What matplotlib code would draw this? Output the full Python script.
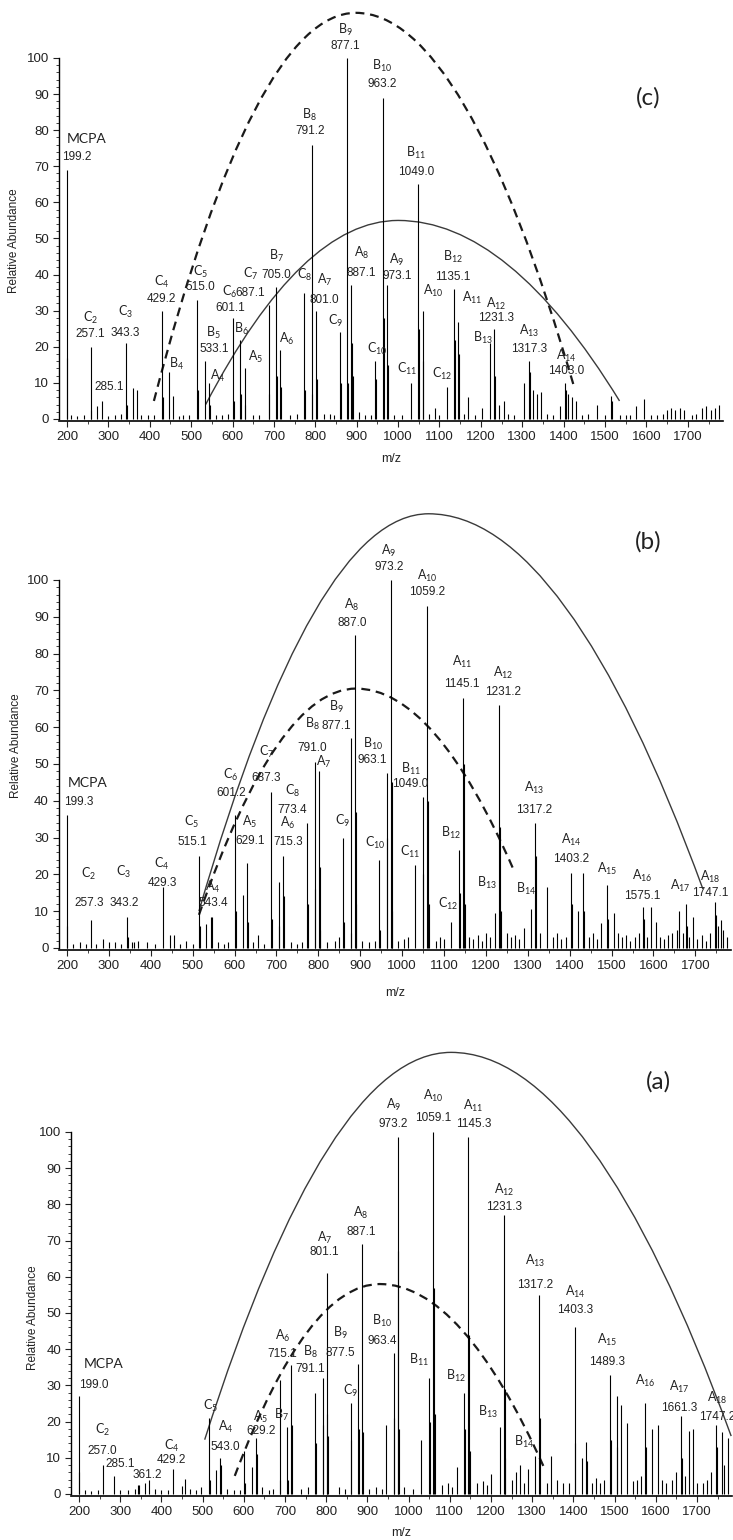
import matplotlib.pyplot as plt
from matplotlib.path import Path
from matplotlib.patches import PathPatch
from matplotlib.ticker import MultipleLocator, FixedLocator
import numpy as np

plt.rcParams['font.family'] = ['Liberation Sans', 'DejaVu Sans']

# ---------------- panel (c) ----------------
c_mz = [199.2, 201, 257.1, 259, 273, 285.1, 343.3, 345, 359, 369, 429.2, 431, 447, 455,
        515.0, 517, 533.1, 543, 545, 601.1, 603, 619, 621, 629, 631, 687.1, 689, 705.0, 707,
        715, 717, 773, 775, 791.2, 793, 801.0, 803, 859, 861, 877.1, 879, 887.1, 889, 891,
        945, 947, 963.2, 965, 973.1, 975, 1031, 1049.0, 1051, 1059, 1061, 1090, 1117,
        1135.1, 1137, 1145, 1147, 1170, 1203, 1221, 1231.3, 1233, 1245, 1255, 1305,
        1317.3, 1319, 1325, 1335, 1345, 1390, 1403.0, 1405, 1411, 1420, 1430, 1480,
        1515, 1517, 1575, 1595, 1650, 1660, 1668, 1680, 1690, 1735, 1745, 1755, 1765, 1775,
        # small baseline peaks
        210, 225, 240, 300, 315, 330, 380, 395, 410, 470, 480, 495, 560, 575, 590, 650,
        665, 740, 755, 820, 835, 845, 905, 920, 935, 990, 1010, 1075, 1100, 1160, 1185,
        1265, 1280, 1360, 1375, 1445, 1460, 1500, 1535, 1550, 1560, 1610, 1625, 1640,
        1710, 1720]
c_int = [69, 17, 20, 2.5, 3.5, 5, 21, 4, 8.5, 8, 30, 6, 13, 6.5,
         33, 8, 16, 10, 4, 28, 5, 22, 7, 14, 4, 31.5, 7, 36.5, 12,
         19, 9, 35, 8, 76, 7, 30, 11, 24, 10, 100, 10, 37, 21, 12,
         16, 11, 89, 28, 37, 15, 10, 65, 25, 30, 16, 3, 9,
         36, 22, 27, 18, 6, 3, 21, 25, 12, 4, 5, 10,
         16, 13, 8, 7, 7.5, 3.5, 10, 8, 7, 6, 5, 4,
         6.5, 5, 3.5, 5.5, 2.5, 3, 2.5, 3, 2.5, 3, 3.5, 2.5, 3, 4,
         1, 0.8, 1.2, 0.8, 1, 1.5, 1, 1.2, 1, 0.8, 1.2, 1, 1, 1, 1.5, 1,
         1.2, 1, 1.5, 1.3, 1.5, 1, 2, 1, 1.2, 1.2, 1, 1.5, 1, 1.5, 1.2,
         1.5, 1.2, 1.5, 1, 1.2, 1.5, 1.2, 1, 1.2, 1, 1.2, 1, 1.5,
         1, 1.3]
# (ion, mass text, peak m/z, dx px, dy px, line gap px)
c_labels = [
    ("MCPA", "199.2", 199.2, 10, 10, 17), ("C_2", "257.1", 257.1, 0, 10, 15),
    ("", "285.1", 285.1, 7, 11, 15), ("C_3", "343.3", 343.3, -1, 7, 20),
    ("C_4", "429.2", 429.2, 0, 9, 16), ("B_4", "", 447, 7, 4, 15),
    ("C_5", "515.0", 515.0, 3, 10, 14), ("B_5", "533.1", 533.1, 9, 9, 15),
    ("A_4", "", 543, 9, 3, 15), ("C_6", "601.1", 601.1, -3, 7, 15),
    ("B_6", "", 619, 1, 7, 15), ("A_5", "", 629, 11, 8, 15),
    ("C_7", "687.1", 687.1, -18, 9, 18), ("B_7", "705.0", 705.0, 0, 9, 18),
    ("A_6", "", 715, 7, 7, 15), ("C_8", "", 773, 0, 14, 15),
    ("B_8", "791.2", 791.2, -2, 11, 15), ("A_7", "801.0", 801.0, 9, 8, 19),
    ("C_9", "", 859, -4, 7, 15), ("B_9", "877.1", 877.1, -2, 9, 15),
    ("A_8", "887.1", 887.1, 10, 9, 20), ("C_{10}", "", 945, 2, 8, 15),
    ("B_{10}", "963.2", 963.2, -1, 11, 17), ("A_9", "973.1", 973.1, 10, 6, 16),
    ("C_{11}", "", 1031, -4, 10, 15), ("B_{11}", "1049.0", 1049.0, -2, 9, 18),
    ("A_{10}", "", 1059, 11, 16, 15), ("C_{12}", "", 1117, -4, 9, 15),
    ("B_{12}", "1135.1", 1135.1, -1, 9, 19), ("A_{11}", "", 1145, 14, 20, 15),
    ("A_{12}", "1231.3", 1231.3, 2, 8, 13), ("B_{13}", "", 1221, -7, 1, 15),
    ("A_{13}", "1317.3", 1317.3, 0, 9, 17), ("A_{14}", "1403.0", 1403.0, 1, 9, 14),
]
c_dashed = [(410, 5), (898, 112.5), (1425, 9)]
c_solid = [(535, 4), (1000, 55), (1535, 5)]

# ---------------- panel (b) ----------------
b_mz = [199.3, 201, 257.3, 285, 300, 343.2, 345, 360, 370, 429.3, 447, 455, 515.1, 517,
        533, 543.4, 547, 601.2, 603, 619, 629.1, 631, 655, 687.3, 689, 705, 707, 715.3,
        717, 773.4, 775, 791.0, 793, 801, 803, 805, 859, 861, 877.1, 879, 887.0, 889, 891,
        945, 947, 963.1, 965, 973.2, 975, 977, 1031, 1049.0, 1051, 1059.2, 1061, 1063,
        1117, 1135, 1137, 1145.1, 1147, 1149, 1200, 1221, 1231.2, 1233, 1235, 1290, 1307,
        1317.2, 1319, 1345, 1403.2, 1405, 1420, 1431, 1433, 1475, 1489, 1491, 1505,
        1575.1, 1577, 1595, 1605, 1661, 1677, 1679, 1695, 1747.1, 1749, 1760,
        # small baseline peaks
        215, 230, 245, 270, 315, 330, 355, 390, 410, 470, 485, 500, 560, 575, 585, 645,
        670, 735, 750, 760, 820, 840, 850, 905, 920, 935, 990, 1005, 1015, 1080, 1090,
        1100, 1160, 1170, 1180, 1190, 1210, 1250, 1260, 1270, 1280, 1330, 1360, 1370,
        1380, 1390, 1445, 1455, 1465, 1515, 1525, 1535, 1545, 1555, 1565, 1585, 1615,
        1625, 1635, 1645, 1655, 1670, 1685, 1705, 1715, 1725, 1735, 1755, 1765, 1775]
b_int = [36, 6, 7.5, 2.5, 1.5, 8.5, 3, 1.5, 2, 16.5, 3.5, 3.5, 25, 6,
         6.5, 8.5, 8.5, 36, 10, 14.5, 23, 7, 3.5, 42.5, 8, 18, 6, 25,
         14, 34, 12, 50.5, 16, 48, 22, 5, 30, 7, 57, 4, 85, 37, 12,
         24, 5, 47.5, 30, 100, 45, 10, 22.5, 41, 20, 93, 40, 12,
         7, 26.5, 15, 68, 50, 12, 4, 9.5, 66, 33, 10, 5.5, 10.5,
         34, 25, 16.5, 20.5, 12, 10, 20.5, 10, 6.8, 17, 8, 9.5,
         11, 8, 11, 7, 10, 12, 6, 8.5, 12.5, 9, 7.5,
         1, 1.5, 1, 1.2, 1.5, 1.2, 1.5, 1.5, 1, 1.2, 2, 1, 1.5, 1, 1.5, 1.5,
         1.2, 1.5, 1, 1.5, 1.5, 2, 3, 2, 1.5, 2, 2, 2.5, 3, 2, 3,
         2.5, 3, 2.5, 3.5, 2, 3, 4, 3, 3.5, 2.5, 4, 3, 4,
         2.5, 3, 3, 4, 2.5, 4, 3, 3.5, 2, 3, 4, 3, 3,
         2.5, 3.5, 4, 5, 4, 3, 2.5, 3.5, 2, 4, 6, 5, 3]
b_labels = [
    ("MCPA", "199.3", 199.3, 12, 10, 18), ("C_2", "257.3", 257.3, -2, 14, 28),
    ("C_3", "343.2", 343.2, -3, 11, 30), ("C_4", "429.3", 429.3, -1, 1, 18),
    ("C_5", "515.1", 515.1, -7, 11, 19), ("A_4", "543.4", 543.4, 2, 11, 15),
    ("C_6", "601.2", 601.2, -4, 19, 18), ("C_7", "687.3", 687.3, -5, 11, 25),
    ("A_5", "629.1", 629.1, 3, 19, 18), ("A_6", "715.3", 715.3, 5, 11, 18),
    ("C_8", "773.4", 773.4, -15, 10, 18), ("B_8", "791.0", 791.0, -2, 11, 23),
    ("A_7", "", 801, 5, 5, 15), ("B_9", "877.1", 877.1, -14, 9, 18),
    ("A_8", "887.0", 887.0, -3, 9, 17), ("C_9", "", 859, -1, 13, 15),
    ("C_{10}", "", 945, -4, 13, 15), ("B_{10}", "963.1", 963.1, -14, 10, 15),
    ("A_9", "973.2", 973.2, -2, 10, 15), ("C_{11}", "", 1031, -5, 9, 15),
    ("B_{11}", "1049.0", 1049.0, -12, 10, 14), ("A_{10}", "1059.2", 1059.2, 0, 11, 15),
    ("C_{12}", "", 1117, -3, 14, 15), ("B_{12}", "", 1135, -8, 14, 15),
    ("A_{11}", "1145.1", 1145.1, -1, 11, 21), ("B_{13}", "", 1221, -8, 26, 15),
    ("A_{12}", "1231.2", 1231.2, 4, 10, 18), ("B_{14}", "", 1307, -5, 16, 15),
    ("A_{13}", "1317.2", 1317.2, -1, 10, 21), ("A_{14}", "1403.2", 1403.2, 0, 11, 18),
    ("A_{15}", "", 1489, 0, 13, 15), ("A_{16}", "1575.1", 1575.1, -1, 8, 20),
    ("A_{17}", "", 1661, 1, 21, 15), ("A_{18}", "1747.1", 1747.1, -5, 6, 15),
]
b_dashed = [(515, 9), (890, 70.5), (1267, 21)]
b_solid = [(515, 10), (1063, 118), (1718, 16)]

# ---------------- panel (a) ----------------
a_mz = [199.0, 201, 257.0, 285.1, 343, 345, 361.2, 370, 429.2, 450, 458, 515, 517, 533,
        543.0, 545, 601, 603, 619, 629.2, 631, 687, 689, 705, 707, 715.1, 717, 773, 775,
        791.1, 793, 801.1, 803, 805, 859, 861, 877.5, 879, 887.1, 889, 945, 963.4, 965,
        973.2, 975, 977, 1031, 1049, 1051, 1059.1, 1061, 1063, 1117, 1135, 1137, 1145.3,
        1147, 1149, 1200, 1221, 1231.3, 1233, 1235, 1260, 1270, 1290, 1307, 1317.2, 1319,
        1345, 1403.3, 1405, 1420, 1431, 1433, 1489.3, 1491, 1505, 1507, 1515, 1530, 1575,
        1577, 1590, 1605, 1661.3, 1663, 1680, 1690, 1747.2, 1749, 1760, 1775,
        # small baseline peaks
        215, 230, 245, 300, 320, 335, 385, 400, 415, 470, 485, 495, 560, 575, 590, 645,
        660, 670, 740, 755, 830, 845, 905, 920, 935, 990, 1010, 1080, 1095, 1105, 1165,
        1180, 1190, 1250, 1280, 1335, 1360, 1375, 1390, 1445, 1455, 1465, 1475, 1545,
        1555, 1565, 1615, 1625, 1640, 1650, 1670, 1700, 1715, 1725, 1735, 1765]
a_int = [27, 6, 8, 5, 2.5, 2.5, 3, 3.8, 7, 2.2, 4.2, 21, 4, 6.5,
         10, 8, 12, 3, 7.5, 15.5, 11, 31.5, 4, 18.5, 4, 35.5, 19, 28, 14,
         32, 19, 61, 22, 16, 25, 15, 36, 18, 69, 17, 19, 39, 21,
         98.5, 67, 18, 15, 32, 20, 100, 57, 22, 7.5, 28, 18, 98.5,
         44, 12, 5.5, 18.5, 77, 29, 10, 6, 8, 7, 10.5, 55, 21,
         10.5, 46, 14, 10, 14.5, 9, 33, 15, 27, 13, 24.5, 19.5, 25,
         13, 18, 19, 21.5, 10, 17.5, 18, 19, 13, 17, 15.5,
         1, 0.8, 1, 1, 1.2, 1.5, 1.5, 1.2, 1, 1.5, 1.2, 2, 1.5, 1, 1.2, 2,
         1, 1.5, 1.5, 2, 2, 1.5, 1.5, 2, 1.5, 2, 1.5, 2.5, 3, 2, 3,
         3.5, 2.5, 4, 3, 3, 4, 3, 3, 3, 4.5, 3, 4, 3.5,
         4, 5, 4, 3, 4, 6, 5, 3, 3, 4, 6, 8]
a_labels = [
    ("MCPA", "199.0", 199.0, 15, 8, 20), ("C_2", "257.0", 257.0, 0, 11, 20),
    ("", "285.1", 285.1, 6, 9, 15), ("", "361.2", 361.2, 2, 5, 15),
    ("C_4", "429.2", 429.2, -2, 6, 13), ("C_5", "", 515, 2, 8, 15),
    ("A_4", "543.0", 543.0, 5, 8, 19), ("A_5", "629.2", 629.2, 5, 4, 13),
    ("B_7", "", 705, -6, 8, 15), ("A_6", "715.1", 715.1, -9, 8, 18),
    ("B_8", "791.1", 791.1, -12, 6, 16), ("A_7", "801.1", 801.1, -2, 18, 13),
    ("B_9", "877.5", 877.5, -18, 8, 19), ("C_9", "", 859, 0, 9, 15),
    ("A_8", "887.1", 887.1, -1, 9, 18), ("B_{10}", "963.4", 963.4, -11, 9, 19),
    ("A_9", "973.2", 973.2, -4, 10, 19), ("A_{10}", "1059.1", 1059.1, 0, 11, 21),
    ("A_{11}", "1145.3", 1145.3, 5, 10, 18), ("B_{11}", "", 1049, -10, 14, 15),
    ("B_{12}", "", 1135, -8, 13, 15), ("A_{12}", "1231.3", 1231.3, 0, 5, 16),
    ("B_{13}", "", 1221, -12, 11, 15), ("B_{14}", "", 1307, -11, 10, 15),
    ("A_{13}", "1317.2", 1317.2, -4, 7, 23), ("A_{14}", "1403.3", 1403.3, 0, 14, 18),
    ("A_{15}", "1489.3", 1489.3, -3, 10, 21), ("A_{16}", "", 1575, 0, 19, 15),
    ("A_{17}", "1661.3", 1661.3, -2, 5, 20), ("A_{18}", "1747.2", 1747.2, 1, 5, 18),
]
a_dashed = [(578, 5), (930, 58), (1330, 7)]
a_solid = [(505, 15), (1103, 122), (1783, 16)]

# left edge offset (px) of the MCPA word from its peak, per panel
mcpa_left = {'(c)': 0, '(b)': 1, '(a)': 5}

W, H = 733, 1540
fig = plt.figure(figsize=(W / 100, H / 100), dpi=100)


def draw_arc(ax, pts, **kw):
    # parabola-like arc as two quadratic Bezier halves meeting at the apex
    (x0, y0), (xp, yp), (x1, y1) = pts
    verts = [(x0, y0), ((x0 + xp) / 2, yp), (xp, yp), ((xp + x1) / 2, yp), (x1, y1)]
    codes = [Path.MOVETO, Path.CURVE3, Path.CURVE3, Path.CURVE3, Path.CURVE3]
    ax.add_patch(PathPatch(Path(verts, codes), fill=False, clip_on=False, **kw))


def draw_panel(rect_px, mz, inten, labels, dashed, solid, tag, tag_px, ylab_xy, xlab_y):
    left, bottom, width, height = rect_px
    ax = fig.add_axes([left / W, 1 - bottom / H, width / W, height / H])
    mz = np.asarray(mz)
    inten = np.asarray(inten)
    ax.vlines(mz, 0, inten, color='black', lw=0.8)

    ax.set_xlim(180, 1785)
    ax.set_ylim(-0.5, 105)
    for s in ['top', 'right']:
        ax.spines[s].set_visible(False)
    ax.spines['left'].set_bounds(0, 100)
    ax.spines['left'].set_linewidth(1.0)
    ax.spines['bottom'].set_linewidth(1.2)

    ax.set_xticks(np.arange(200, 1701, 100))
    ax.xaxis.set_minor_locator(MultipleLocator(50))
    ax.set_yticks(np.arange(0, 101, 10))
    ax.yaxis.set_minor_locator(FixedLocator(np.arange(0, 101, 2)))
    ax.tick_params(axis='both', which='major', labelsize=9.5, length=4, width=0.8,
                   colors='#222222', pad=3)
    ax.tick_params(axis='both', which='minor', length=2.2, width=0.6, colors='#222222')

    ax.set_ylabel('Relative Abundance', fontsize=8.5, color='#222222')
    ax.yaxis.set_label_coords(*ylab_xy)
    ax.set_xlabel('m/z', fontsize=9, color='#222222')
    ax.xaxis.set_label_coords(0.5, xlab_y)

    draw_arc(ax, dashed, lw=1.6, ls=(0, (4, 2.6)), edgecolor='#1a1a1a')
    draw_arc(ax, solid, lw=1.0, edgecolor='#3a3a3a')

    for ion, mass, pk, dx, dy, gap in labels:
        y = inten[np.argmin(np.abs(mz - pk))]
        yoff = dy
        if mass:
            ax.annotate(mass, (pk, y), xytext=(dx, dy), textcoords='offset pixels',
                        ha='center', va='baseline', fontsize=8.5, color='#222222')
            yoff = dy + gap
        if ion == 'MCPA':
            ax.annotate('MCPA', (pk, y), xytext=(mcpa_left[tag], yoff),
                        textcoords='offset pixels', ha='left', va='baseline',
                        fontsize=10, color='#222222', family=['Lato', 'DejaVu Sans'])
        elif ion:
            ax.annotate(r'$\mathregular{' + ion + '}$', (pk, y), xytext=(dx, yoff),
                        textcoords='offset pixels', ha='center', va='baseline',
                        fontsize=9, color='#222222', family=['Lato', 'DejaVu Sans'])

    fig.text(tag_px[0] / W, 1 - tag_px[1] / H, tag, fontsize=17.5, ha='center',
             va='center', color='#222222', family=['Lato', 'DejaVu Sans'])
    return ax


# rectangles in pixels: left, bottom, width, height
draw_panel((58.7, 420.8, 664.3, 380.9), c_mz, c_int, c_labels, c_dashed, c_solid,
           '(c)', (648, 98), (-0.058, 0.472), -0.085)
draw_panel((58.6, 949.8, 672.4, 388.2), b_mz, b_int, b_labels, b_dashed, b_solid,
           '(b)', (648, 542), (-0.054, 0.525), -0.096)
draw_panel((70.8, 1495.8, 661.2, 381.9), a_mz, a_int, a_labels, a_dashed, a_solid,
           '(a)', (658, 1082), (-0.048, 0.466), -0.082)

fig.savefig('out.png', dpi=100)
